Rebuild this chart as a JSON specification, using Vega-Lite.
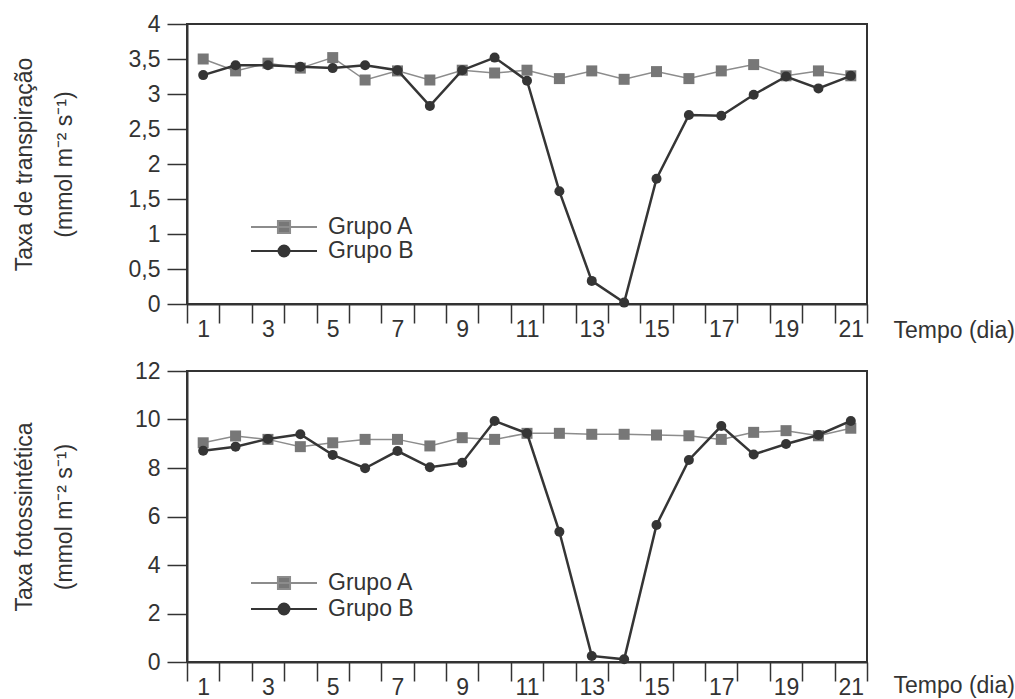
{
  "$schema": "https://vega.github.io/schema/vega-lite/v6.json",
  "padding": {"left": 12, "top": 12, "right": 5, "bottom": 5},
  "background": "white",
  "datasets": {
    "transp": [
      {"day": 1, "group": "Grupo A", "value": 3.50}, {"day": 2, "group": "Grupo A", "value": 3.33},
      {"day": 3, "group": "Grupo A", "value": 3.44}, {"day": 4, "group": "Grupo A", "value": 3.37},
      {"day": 5, "group": "Grupo A", "value": 3.52}, {"day": 6, "group": "Grupo A", "value": 3.20},
      {"day": 7, "group": "Grupo A", "value": 3.33}, {"day": 8, "group": "Grupo A", "value": 3.20},
      {"day": 9, "group": "Grupo A", "value": 3.34}, {"day": 10, "group": "Grupo A", "value": 3.30},
      {"day": 11, "group": "Grupo A", "value": 3.34}, {"day": 12, "group": "Grupo A", "value": 3.22},
      {"day": 13, "group": "Grupo A", "value": 3.33}, {"day": 14, "group": "Grupo A", "value": 3.21},
      {"day": 15, "group": "Grupo A", "value": 3.32}, {"day": 16, "group": "Grupo A", "value": 3.22},
      {"day": 17, "group": "Grupo A", "value": 3.33}, {"day": 18, "group": "Grupo A", "value": 3.42},
      {"day": 19, "group": "Grupo A", "value": 3.26}, {"day": 20, "group": "Grupo A", "value": 3.33},
      {"day": 21, "group": "Grupo A", "value": 3.26},
      {"day": 1, "group": "Grupo B", "value": 3.27}, {"day": 2, "group": "Grupo B", "value": 3.41},
      {"day": 3, "group": "Grupo B", "value": 3.41}, {"day": 4, "group": "Grupo B", "value": 3.39},
      {"day": 5, "group": "Grupo B", "value": 3.37}, {"day": 6, "group": "Grupo B", "value": 3.41},
      {"day": 7, "group": "Grupo B", "value": 3.34}, {"day": 8, "group": "Grupo B", "value": 2.83},
      {"day": 9, "group": "Grupo B", "value": 3.34}, {"day": 10, "group": "Grupo B", "value": 3.52},
      {"day": 11, "group": "Grupo B", "value": 3.19}, {"day": 12, "group": "Grupo B", "value": 1.61},
      {"day": 13, "group": "Grupo B", "value": 0.33}, {"day": 14, "group": "Grupo B", "value": 0.02},
      {"day": 15, "group": "Grupo B", "value": 1.79}, {"day": 16, "group": "Grupo B", "value": 2.70},
      {"day": 17, "group": "Grupo B", "value": 2.69}, {"day": 18, "group": "Grupo B", "value": 2.99},
      {"day": 19, "group": "Grupo B", "value": 3.25}, {"day": 20, "group": "Grupo B", "value": 3.08},
      {"day": 21, "group": "Grupo B", "value": 3.26}
    ],
    "foto": [
      {"day": 1, "group": "Grupo A", "value": 9.04}, {"day": 2, "group": "Grupo A", "value": 9.32},
      {"day": 3, "group": "Grupo A", "value": 9.18}, {"day": 4, "group": "Grupo A", "value": 8.88},
      {"day": 5, "group": "Grupo A", "value": 9.04}, {"day": 6, "group": "Grupo A", "value": 9.18},
      {"day": 7, "group": "Grupo A", "value": 9.18}, {"day": 8, "group": "Grupo A", "value": 8.91},
      {"day": 9, "group": "Grupo A", "value": 9.25}, {"day": 10, "group": "Grupo A", "value": 9.18},
      {"day": 11, "group": "Grupo A", "value": 9.43}, {"day": 12, "group": "Grupo A", "value": 9.43},
      {"day": 13, "group": "Grupo A", "value": 9.39}, {"day": 14, "group": "Grupo A", "value": 9.39},
      {"day": 15, "group": "Grupo A", "value": 9.36}, {"day": 16, "group": "Grupo A", "value": 9.33},
      {"day": 17, "group": "Grupo A", "value": 9.18}, {"day": 18, "group": "Grupo A", "value": 9.47},
      {"day": 19, "group": "Grupo A", "value": 9.54}, {"day": 20, "group": "Grupo A", "value": 9.33},
      {"day": 21, "group": "Grupo A", "value": 9.64},
      {"day": 1, "group": "Grupo B", "value": 8.71}, {"day": 2, "group": "Grupo B", "value": 8.88},
      {"day": 3, "group": "Grupo B", "value": 9.20}, {"day": 4, "group": "Grupo B", "value": 9.39},
      {"day": 5, "group": "Grupo B", "value": 8.54}, {"day": 6, "group": "Grupo B", "value": 7.99},
      {"day": 7, "group": "Grupo B", "value": 8.70}, {"day": 8, "group": "Grupo B", "value": 8.03},
      {"day": 9, "group": "Grupo B", "value": 8.22}, {"day": 10, "group": "Grupo B", "value": 9.94},
      {"day": 11, "group": "Grupo B", "value": 9.43}, {"day": 12, "group": "Grupo B", "value": 5.37},
      {"day": 13, "group": "Grupo B", "value": 0.25}, {"day": 14, "group": "Grupo B", "value": 0.11},
      {"day": 15, "group": "Grupo B", "value": 5.65}, {"day": 16, "group": "Grupo B", "value": 8.33},
      {"day": 17, "group": "Grupo B", "value": 9.73}, {"day": 18, "group": "Grupo B", "value": 8.56},
      {"day": 19, "group": "Grupo B", "value": 8.99}, {"day": 20, "group": "Grupo B", "value": 9.36},
      {"day": 21, "group": "Grupo B", "value": 9.94}
    ]
  },
  "vconcat": [
    {
      "width": 680,
      "height": 280,
      "data": {"name": "transp"},
      "encoding": {
        "x": {
          "field": "day", "type": "quantitative",
          "scale": {"domain": [0.5, 21.5], "nice": false, "zero": false},
          "axis": {
            "values": [0.5,1.5,2.5,3.5,4.5,5.5,6.5,7.5,8.5,9.5,10.5,11.5,12.5,13.5,14.5,15.5,16.5,17.5,18.5,19.5,20.5,21.5],
            "labelExpr": "datum.value < 21 && (datum.value + 0.5) % 2 == 1 ? toString(datum.value + 0.5) : ''",
            "tickSize": 19, "labelOffset": 16.2, "labelPadding": 13, "labelBaseline": "alphabetic",
            "labelFlush": false, "labelOverlap": false, "labelBound": false,
            "title": "Tempo (dia)", "titleX": 706, "titleY": 33, "titleAlign": "left", "titleBaseline": "alphabetic", "titleAnchor": "start"
          }
        },
        "y": {
          "field": "value", "type": "quantitative",
          "scale": {"domain": [0, 4], "nice": false, "zero": true},
          "axis": {
            "values": [0, 0.5, 1, 1.5, 2, 2.5, 3, 3.5, 4],
            "labelExpr": "replace(toString(datum.value), '.', ',')",
            "labelPadding": 7, "tickSize": 20,
            "title": ["Taxa de transpiração", "(mmol  m⁻² s⁻¹)"],
            "titleX": -156, "titleY": 140, "titleAngle": -90, "titleAlign": "center", "titleBaseline": "alphabetic", "titleLineHeight": 40
          }
        }
      },
      "layer": [
        {"transform": [{"filter": "datum.group == 'Grupo A'"}], "mark": {"type": "line", "color": "#8c8c8c", "strokeWidth": 1.5}},
        {"transform": [{"filter": "datum.group == 'Grupo A'"}], "mark": {"type": "square", "color": "#777777", "filled": true, "opacity": 1, "size": 121}},
        {"transform": [{"filter": "datum.group == 'Grupo B'"}], "mark": {"type": "line", "color": "#353535", "strokeWidth": 2.5}},
        {"transform": [{"filter": "datum.group == 'Grupo B'"}], "mark": {"type": "circle", "color": "#353535", "opacity": 1, "size": 100}},
        {
          "transform": [{"filter": "datum.day > 100"}],
          "mark": {"type": "point", "filled": true, "opacity": 1},
          "encoding": {
            "fill": {"field": "group", "type": "nominal", "scale": {"domain": ["Grupo A", "Grupo B"], "range": ["#777777", "#353535"]},
              "legend": {"orient": "none", "legendX": 85, "legendY": 191, "title": null, "padding": 0, "rowPadding": 0, "labelOffset": 32, "symbolSize": 484}},
            "stroke": {"field": "group", "type": "nominal", "scale": {"domain": ["Grupo A", "Grupo B"], "range": ["#8c8c8c", "#353535"]},
              "legend": {"orient": "none", "legendX": 85, "legendY": 191, "title": null, "padding": 0, "rowPadding": 0, "labelOffset": 32, "symbolSize": 484}},
            "shape": {"field": "group", "type": "nominal", "scale": {"domain": ["Grupo A", "Grupo B"], "range": ["M-3,0H3M-0.55,-0.55H0.55V0.55H-0.55Z", "M-3,0H3M0.5,0A0.5,0.5,0,1,1,-0.5,0A0.5,0.5,0,1,1,0.5,0Z"]},
              "legend": {"orient": "none", "legendX": 85, "legendY": 191, "title": null, "padding": 0, "rowPadding": 0, "labelOffset": 32, "symbolSize": 484}}
          }
        }
      ]
    },
    {
      "width": 680,
      "height": 291,
      "data": {"name": "foto"},
      "encoding": {
        "x": {
          "field": "day", "type": "quantitative",
          "scale": {"domain": [0.5, 21.5], "nice": false, "zero": false},
          "axis": {
            "values": [0.5,1.5,2.5,3.5,4.5,5.5,6.5,7.5,8.5,9.5,10.5,11.5,12.5,13.5,14.5,15.5,16.5,17.5,18.5,19.5,20.5,21.5],
            "labelExpr": "datum.value < 21 && (datum.value + 0.5) % 2 == 1 ? toString(datum.value + 0.5) : ''",
            "tickSize": 19, "labelOffset": 16.2, "labelPadding": 13, "labelBaseline": "alphabetic",
            "labelFlush": false, "labelOverlap": false, "labelBound": false,
            "title": "Tempo (dia)", "titleX": 706, "titleY": 30, "titleAlign": "left", "titleBaseline": "alphabetic", "titleAnchor": "start"
          }
        },
        "y": {
          "field": "value", "type": "quantitative",
          "scale": {"domain": [0, 12], "nice": false, "zero": true},
          "axis": {
            "values": [0, 2, 4, 6, 8, 10, 12],
            "labelPadding": 7, "tickSize": 20,
            "title": ["Taxa fotossintética", "(mmol m⁻² s⁻¹)"],
            "titleX": -156, "titleY": 145.5, "titleAngle": -90, "titleAlign": "center", "titleBaseline": "alphabetic", "titleLineHeight": 40
          }
        }
      },
      "layer": [
        {"transform": [{"filter": "datum.group == 'Grupo A'"}], "mark": {"type": "line", "color": "#8c8c8c", "strokeWidth": 1.5}},
        {"transform": [{"filter": "datum.group == 'Grupo A'"}], "mark": {"type": "square", "color": "#777777", "filled": true, "opacity": 1, "size": 121}},
        {"transform": [{"filter": "datum.group == 'Grupo B'"}], "mark": {"type": "line", "color": "#353535", "strokeWidth": 2.5}},
        {"transform": [{"filter": "datum.group == 'Grupo B'"}], "mark": {"type": "circle", "color": "#353535", "opacity": 1, "size": 100}},
        {
          "transform": [{"filter": "datum.day > 100"}],
          "mark": {"type": "point", "filled": true, "opacity": 1},
          "encoding": {
            "fill": {"field": "group", "type": "nominal", "scale": {"domain": ["Grupo A", "Grupo B"], "range": ["#777777", "#353535"]},
              "legend": {"orient": "none", "legendX": 85, "legendY": 200, "title": null, "padding": 0, "rowPadding": 2, "labelOffset": 32, "symbolSize": 484}},
            "stroke": {"field": "group", "type": "nominal", "scale": {"domain": ["Grupo A", "Grupo B"], "range": ["#8c8c8c", "#353535"]},
              "legend": {"orient": "none", "legendX": 85, "legendY": 200, "title": null, "padding": 0, "rowPadding": 2, "labelOffset": 32, "symbolSize": 484}},
            "shape": {"field": "group", "type": "nominal", "scale": {"domain": ["Grupo A", "Grupo B"], "range": ["M-3,0H3M-0.55,-0.55H0.55V0.55H-0.55Z", "M-3,0H3M0.5,0A0.5,0.5,0,1,1,-0.5,0A0.5,0.5,0,1,1,0.5,0Z"]},
              "legend": {"orient": "none", "legendX": 85, "legendY": 200, "title": null, "padding": 0, "rowPadding": 2, "labelOffset": 32, "symbolSize": 484}}
          }
        }
      ]
    }
  ],
  "spacing": 67,
  "bounds": "flush",
  "resolve": {"scale": {"fill": "independent", "stroke": "independent", "shape": "independent"}},
  "config": {
    "font": "Liberation Sans",
    "view": {"stroke": "#333333", "strokeWidth": 2},
    "axis": {
      "grid": false, "domainColor": "#333333", "domainWidth": 2, "tickColor": "#333333", "tickWidth": 1.5,
      "labelFont": "Liberation Sans", "labelFontSize": 23, "labelColor": "#333333",
      "titleFont": "Liberation Sans", "titleFontSize": 23, "titleFontWeight": "normal", "titleColor": "#333333"
    },
    "legend": {"labelFont": "Liberation Sans", "labelFontSize": 23, "labelColor": "#333333", "symbolStrokeWidth": 2}
  }
}
